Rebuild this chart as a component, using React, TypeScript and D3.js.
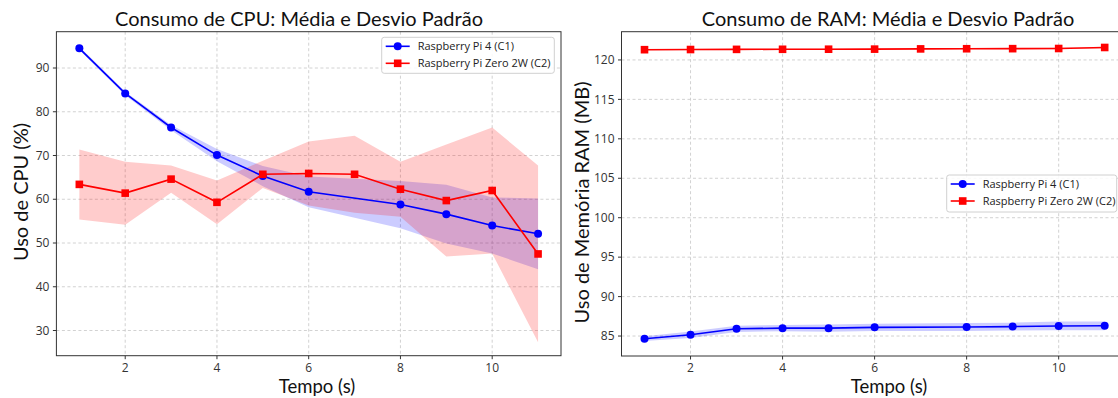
import * as d3 from "d3";

// time steps (s); the Pi 4 runs have no sample at t = 7
const tempoZero = [1, 2, 3, 4, 5, 6, 7, 8, 9, 10, 11];
const tempoPi4 = [1, 2, 3, 4, 5, 6, 8, 9, 10, 11];

const cpuPi4Mean = [94.5, 84.2, 76.4, 70.1, 65.3, 61.7, 58.8, 56.6, 54.0, 52.1];
const cpuPi4Std = [0.4, 0.4, 0.6, 1.4, 2.3, 3.5, 5.4, 6.7, 6.4, 8.1];
const cpuZeroMean = [63.4, 61.4, 64.6, 59.3, 65.7, 65.9, 65.7, 62.3, 59.7, 62.0, 47.5];
const cpuZeroStd = [8.0, 7.2, 3.1, 5.0, 3.1, 7.3, 8.8, 6.3, 12.8, 14.4, 20.2];

const ramPi4Mean = [84.66, 85.16, 85.92, 86.0, 86.0, 86.1, 86.15, 86.2, 86.28, 86.3];
const ramPi4Std = [0.3, 0.4, 0.4, 0.4, 0.45, 0.45, 0.5, 0.5, 0.55, 0.55];
const ramZeroMean = [121.3, 121.32, 121.34, 121.35, 121.36, 121.37, 121.4, 121.42, 121.43, 121.45, 121.58];
const ramZeroStd = [0.08, 0.08, 0.08, 0.08, 0.08, 0.08, 0.08, 0.08, 0.08, 0.08, 0.1];

const xTicks = [2, 4, 6, 8, 10];
const cpuTicks = [30, 40, 50, 60, 70, 80, 90];
const ramTicks = [85, 90, 95, 100, 105, 110, 115, 120];
const seriesNames = ["Raspberry Pi 4 (C1)", "Raspberry Pi Zero 2W (C2)"];
const seriesColors = ["#0000ff", "#ff0000"];

const tickFont = "'Open Sans', sans-serif";
const labelFont = "Lato, 'Open Sans', sans-serif";

type Series = { xs: number[]; mean: number[]; std: number[]; color: string; marker: "circle" | "square" };

function Marker({ kind, x, y, color }: { kind: string; x: number; y: number; color: string }) {
  if (kind === "circle") return <circle cx={x} cy={y} r={4} fill={color} />;
  return <rect x={x - 3.8} y={y - 3.8} width={7.6} height={7.6} fill={color} />;
}

function Panel(props: {
  id: string;
  box: [number, number, number, number]; // left, right, top, bottom
  yDomain: [number, number];
  yTicks: number[];
  series: Series[];
  title: string;
  titleX: number;
  xLabelX: number;
  yLabel: string;
  yLabelPos: [number, number];
  legend: [number, number, number, number];
}) {
  const [l, r, t, b] = props.box;
  const x = d3.scaleLinear().domain([0.5, 11.5]).range([l, r]);
  const y = d3.scaleLinear().domain(props.yDomain).range([b, t]);
  const [lx, ly, lw, lh] = props.legend;

  return (
    <g>
      <defs>
        <clipPath id={props.id}>
          <rect x={l} y={t} width={r - l} height={b - t} />
        </clipPath>
      </defs>

      {/* grid */}
      <g stroke="#b0b0b0" strokeWidth={0.8} strokeDasharray="3,2.5" opacity={0.7}>
        {xTicks.map((v) => (
          <line key={"gx" + v} x1={x(v)} x2={x(v)} y1={t} y2={b} />
        ))}
        {props.yTicks.map((v) => (
          <line key={"gy" + v} x1={l} x2={r} y1={y(v)} y2={y(v)} />
        ))}
      </g>

      <g clipPath={`url(#${props.id})`}>
        {props.series.map((s, i) => {
          const pts = s.xs.map((v, j) => ({ x: v, m: s.mean[j], sd: s.std[j] }));
          const band = d3
            .area<{ x: number; m: number; sd: number }>()
            .x((d) => x(d.x))
            .y0((d) => y(d.m - d.sd))
            .y1((d) => y(d.m + d.sd));
          return <path key={"b" + i} d={band(pts) || ""} fill={s.color} fillOpacity={0.2} />;
        })}
        {props.series.map((s, i) => {
          const line = d3
            .line<number>()
            .x((_, j) => x(s.xs[j]))
            .y((d) => y(d));
          return (
            <g key={"l" + i}>
              <path d={line(s.mean) || ""} fill="none" stroke={s.color} strokeWidth={1.6} />
              {s.mean.map((m, j) => (
                <Marker key={j} kind={s.marker} x={x(s.xs[j])} y={y(m)} color={s.color} />
              ))}
            </g>
          );
        })}
      </g>

      {/* spines */}
      <rect x={l} y={t} width={r - l} height={b - t} fill="none" stroke="#333" strokeWidth={1} />

      {/* ticks */}
      <g fontFamily={tickFont} fontSize={12} fill="#333">
        {xTicks.map((v) => (
          <g key={"tx" + v}>
            <line x1={x(v)} x2={x(v)} y1={b} y2={b + 3.5} stroke="#333" />
            <text x={x(v)} y={355.7 + 16} textAnchor="middle">
              {v}
            </text>
          </g>
        ))}
        {props.yTicks.map((v) => (
          <g key={"ty" + v}>
            <line x1={l - 3.5} x2={l} y1={y(v)} y2={y(v)} stroke="#333" />
            <text x={l - 7} y={y(v)} dy="0.35em" textAnchor="end">
              {v}
            </text>
          </g>
        ))}
      </g>

      <text x={props.titleX} y={26} textAnchor="middle" fontFamily={labelFont} fontSize={20} fill="#111">
        {props.title}
      </text>
      <text x={props.xLabelX} y={392.5} textAnchor="middle" fontFamily={labelFont} fontSize={18.5} fill="#111">
        Tempo (s)
      </text>
      <text
        transform={`translate(${props.yLabelPos[0]},${props.yLabelPos[1]}) rotate(-90)`}
        textAnchor="middle"
        dominantBaseline="central"
        fontFamily={labelFont}
        fontSize={20}
        fill="#111"
      >
        {props.yLabel}
      </text>

      {/* legend */}
      <g>
        <rect x={lx} y={ly} width={lw} height={lh} rx={2.5} fill="#fff" fillOpacity={0.85} stroke="#d0d0d0" />
        {props.series.map((s, i) => {
          const ry = ly + 9 + i * 17;
          return (
            <g key={"lg" + i}>
              <line x1={lx + 4} x2={lx + 28} y1={ry} y2={ry} stroke={s.color} strokeWidth={1.6} />
              <Marker kind={s.marker} x={lx + 16} y={ry} color={s.color} />
              <text x={lx + 36} y={ry} dy="0.35em" fontFamily={tickFont} fontSize={11} fill="#222">
                {seriesNames[i]}
              </text>
            </g>
          );
        })}
      </g>
    </g>
  );
}

export default function App() {
  const cpuSeries: Series[] = [
    { xs: tempoPi4, mean: cpuPi4Mean, std: cpuPi4Std, color: seriesColors[0], marker: "circle" },
    { xs: tempoZero, mean: cpuZeroMean, std: cpuZeroStd, color: seriesColors[1], marker: "square" },
  ];
  const ramSeries: Series[] = [
    { xs: tempoPi4, mean: ramPi4Mean, std: ramPi4Std, color: seriesColors[0], marker: "circle" },
    { xs: tempoZero, mean: ramZeroMean, std: ramZeroStd, color: seriesColors[1], marker: "square" },
  ];

  return (
    <svg
      width={1118}
      height={398}
      style={{ position: "absolute", left: 0, top: 0, background: "#fff" }}
    >
      <rect width={1118} height={398} fill="#fff" />
      <Panel
        id="clip-cpu"
        box={[56.4, 561, 31.7, 355.7]}
        yDomain={[24.24, 98.3]}
        yTicks={cpuTicks}
        series={cpuSeries}
        title="Consumo de CPU: Média e Desvio Padrão"
        titleX={299}
        xLabelX={317}
        yLabel="Uso de CPU (%)"
        yLabelPos={[19.5, 192]}
        legend={[381.7, 37.3, 172.6, 36]}
      />
      <Panel
        id="clip-ram"
        box={[621.5, 1127.7, 31.7, 356]}
        yDomain={[82.47, 123.58]}
        yTicks={ramTicks}
        series={ramSeries}
        title="Consumo de RAM: Média e Desvio Padrão"
        titleX={888}
        xLabelX={889}
        yLabel="Uso de Memória RAM (MB)"
        yLabelPos={[581, 202.5]}
        legend={[946.7, 175, 170, 37]}
      />
    </svg>
  );
}
